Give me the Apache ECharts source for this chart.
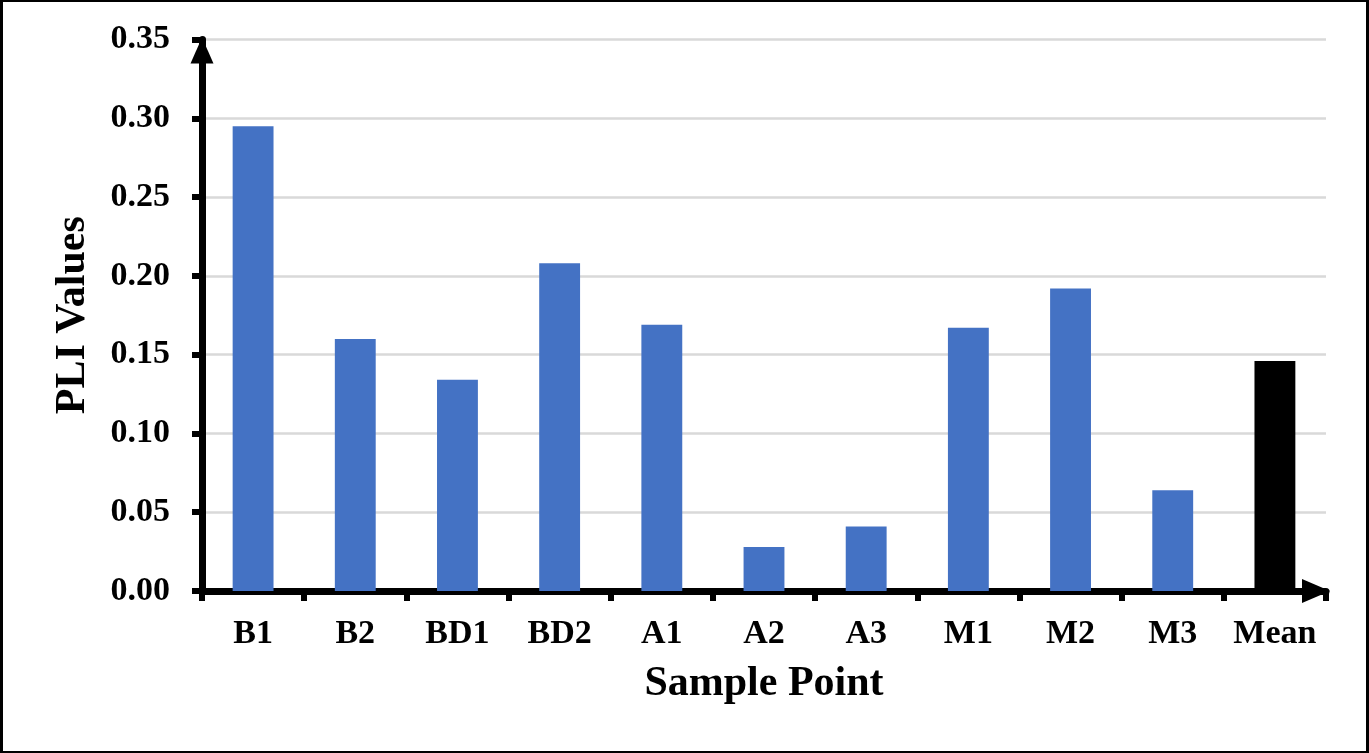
<!DOCTYPE html>
<html>
<head>
<meta charset="utf-8">
<title>PLI Values</title>
<script src="https://cdn.jsdelivr.net/npm/echarts@6/dist/echarts.min.js"></script>
<style>
  html, body { margin: 0; padding: 0; background: #fff; }
  #chart { position: absolute; left: 0; top: 0; width: 1369px; height: 753px; }
  #frame {
    position: absolute; left: 0; top: 0; width: 1369px; height: 753px;
    box-sizing: border-box; border: 2px solid #000; border-left-width: 3px; border-right-width: 3px;
    pointer-events: none;
  }
</style>
</head>
<body>
<div id="chart"></div>
<div id="frame"></div>
<script>
// sample points and PLI values
const categories = ['B1', 'B2', 'BD1', 'BD2', 'A1', 'A2', 'A3', 'M1', 'M2', 'M3', 'Mean'];
const pliValues = [0.295, 0.160, 0.134, 0.208, 0.169, 0.028, 0.041, 0.167, 0.192, 0.064, 0.146];

const FONT = '"Liberation Serif", "Times New Roman", serif';

const chart = echarts.init(document.getElementById('chart'), null, { renderer: 'canvas' });

chart.setOption({
  animation: false,
  grid: { left: 202, right: 43, top: 39.5, bottom: 162 },
  xAxis: {
    type: 'category',
    data: categories,
    name: 'Sample Point',
    nameLocation: 'middle',
    nameGap: 72,
    nameTextStyle: { fontFamily: FONT, fontWeight: 'bold', fontSize: 42, color: '#000' },
    axisLine: {
      lineStyle: { color: '#000', width: 7 },
      symbol: ['none', 'triangle'],
      symbolSize: [24, 28],
      symbolOffset: [0, -10]
    },
    axisTick: { show: true, interval: 0, length: 10, lineStyle: { color: '#000', width: 6 } },
    axisLabel: { interval: 0, fontFamily: FONT, fontWeight: 'bold', fontSize: 34, color: '#000', margin: 26 },
    splitLine: { show: false }
  },
  yAxis: {
    type: 'value',
    min: 0,
    max: 0.35,
    interval: 0.05,
    name: 'PLI Values',
    nameLocation: 'middle',
    nameGap: 108,
    nameTextStyle: { fontFamily: FONT, fontWeight: 'bold', fontSize: 42, color: '#000' },
    axisLine: {
      show: true,
      lineStyle: { color: '#000', width: 7 },
      symbol: ['none', 'triangle'],
      symbolSize: [23, 26],
      symbolOffset: [0, -11]
    },
    axisTick: { show: true, length: 10, lineStyle: { color: '#000', width: 6 } },
    axisLabel: {
      fontFamily: FONT, fontWeight: 'bold', fontSize: 34, color: '#000', margin: 32,
      formatter: (v) => v.toFixed(2)
    },
    splitLine: { show: true, lineStyle: { color: '#d9d9d9', width: 2.5 } }
  },
  series: [
    {
      type: 'bar',
      barWidth: '40%',
      data: pliValues.map((v, i) => ({
        value: v,
        itemStyle: { color: categories[i] === 'Mean' ? '#000000' : '#4472c4' }
      }))
    }
  ]
});
</script>
</body>
</html>
